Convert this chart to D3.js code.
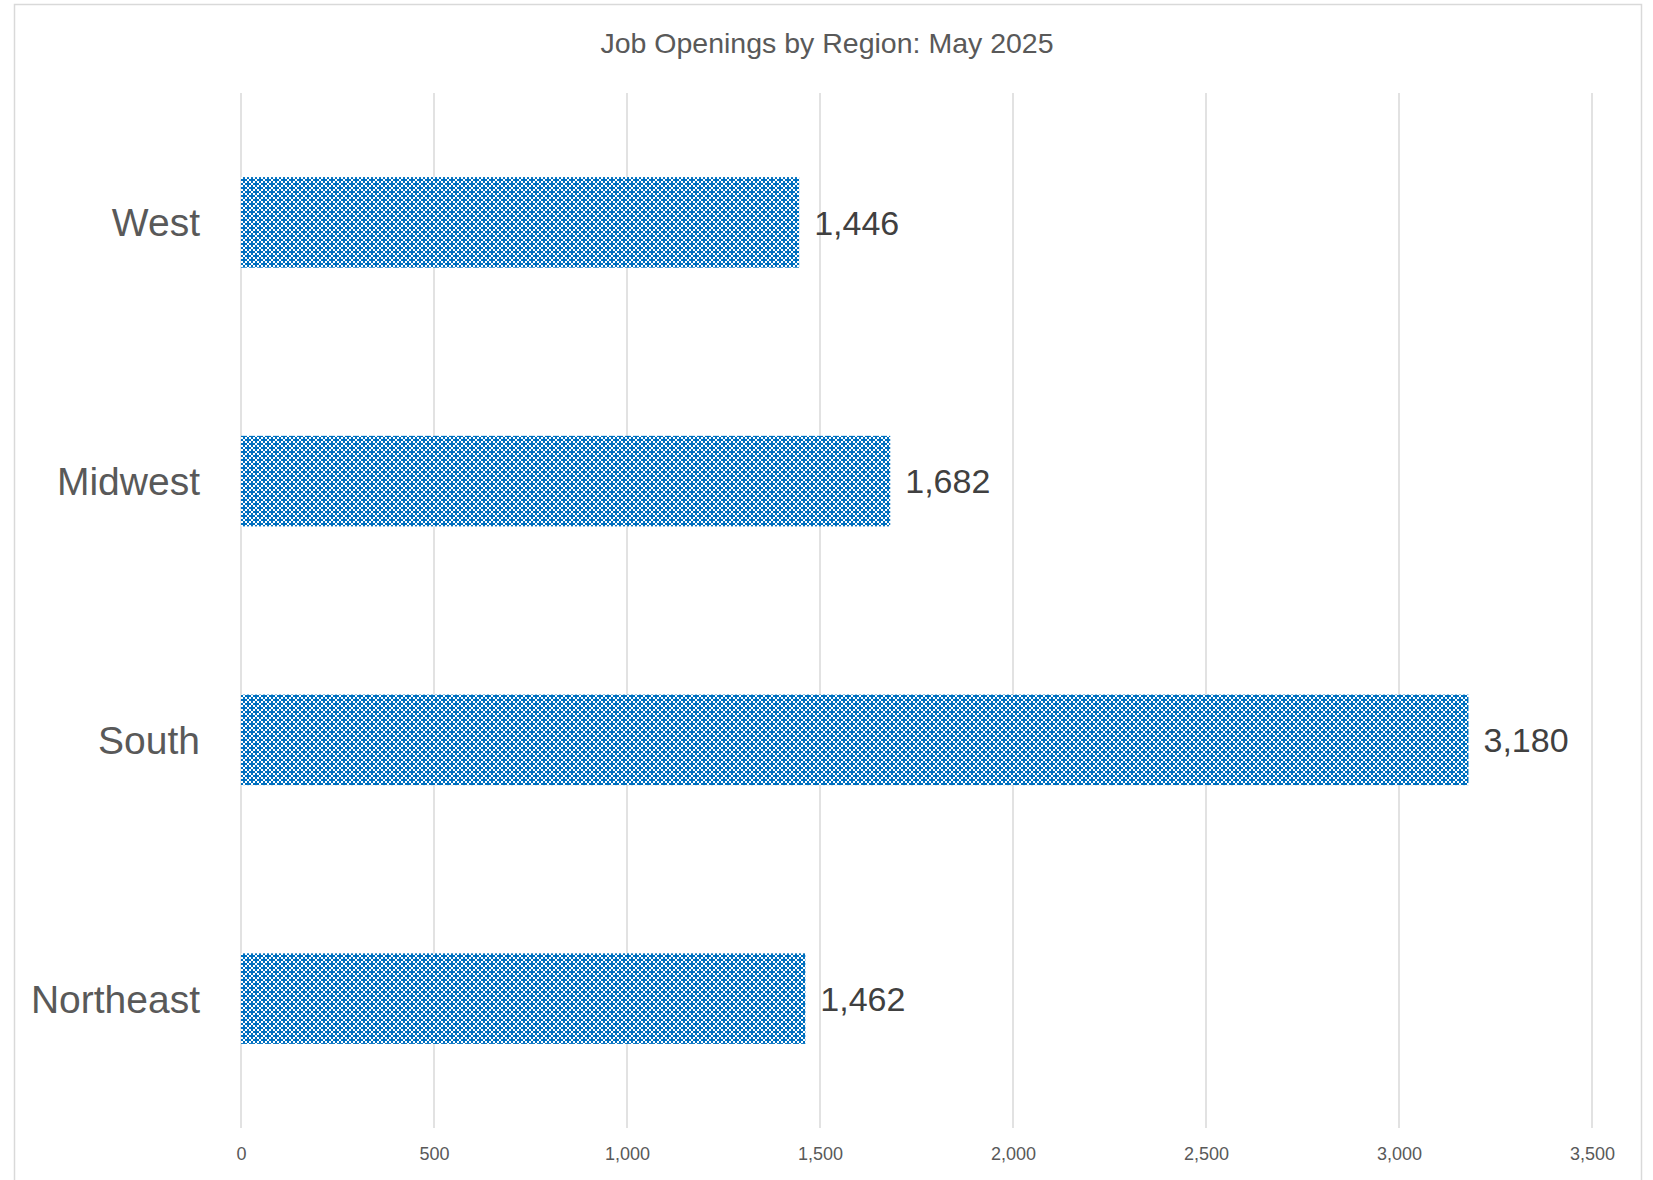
<!DOCTYPE html>
<html><head><meta charset="utf-8">
<script src="https://cdn.jsdelivr.net/npm/d3@7"></script>
<style>body{margin:0;background:#fff;} svg{display:block;}</style>
</head><body>
<script>
const categories = ["West", "Midwest", "South", "Northeast"];
const values = [1446, 1682, 3180, 1462];
const tickValues = [0, 500, 1000, 1500, 2000, 2500, 3000, 3500];
const title = "Job Openings by Region: May 2025";

const W = 1653, H = 1180;
const svg = d3.select("body").append("svg").attr("width", W).attr("height", H);

// outer chart border
svg.append("rect").attr("x", 14.5).attr("y", 4.5).attr("width", 1627).attr("height", 1200)
  .attr("fill", "#fff").attr("stroke", "#d9d9d9").attr("stroke-width", 1.5);

const defs = svg.append("defs");
const T = 8;
const pat = defs.append("pattern").attr("id", "pat").attr("patternUnits", "userSpaceOnUse")
  .attr("width", T).attr("height", T);
pat.append("rect").attr("width", T).attr("height", T).attr("fill", "#ffffff");
const centers = [[4, 4], [0, 0], [8, 0], [0, 8], [8, 8]];
centers.forEach(([cx, cy]) => {
  pat.append("rect").attr("x", cx - 3).attr("y", cy - 1).attr("width", 6).attr("height", 2).attr("fill", "#0070C0");
  pat.append("rect").attr("x", cx - 1).attr("y", cy - 3).attr("width", 2).attr("height", 6).attr("fill", "#0070C0");
});

const x = d3.scaleLinear().domain([0, 3500]).range([241, 1592]);
const y = d3.scaleBand().domain(categories).range([93, 1128]).paddingInner(0.65).paddingOuter(0.325);

// gridlines
svg.append("g").selectAll("line").data(tickValues).join("line")
  .attr("x1", d => x(d)).attr("x2", d => x(d))
  .attr("y1", 93).attr("y2", 1128)
  .attr("stroke", "#d9d9d9").attr("stroke-width", 1.5);

// x tick labels
const xAxis = svg.append("g").attr("transform", "translate(0,1128)")
  .call(d3.axisBottom(x).tickValues(tickValues).tickFormat(d3.format(",")).tickSize(0).tickPadding(0));
xAxis.select(".domain").remove();
xAxis.selectAll("text").attr("y", 26).attr("dy", "0.35em")
  .attr("font-family", "Liberation Sans, Arial, sans-serif").attr("font-size", 18).attr("fill", "#595959");

// bars
svg.append("g").selectAll("rect").data(values).join("rect")
  .attr("x", x(0)).attr("y", (d, i) => y(categories[i]))
  .attr("width", d => x(d) - x(0)).attr("height", y.bandwidth())
  .attr("fill", "url(#pat)");

// value labels
svg.append("g").selectAll("text").data(values).join("text")
  .attr("x", d => x(d) + 15).attr("y", (d, i) => y(categories[i]) + y.bandwidth() / 2)
  .attr("dy", "0.36em")
  .attr("font-family", "Liberation Sans, Arial, sans-serif").attr("font-size", 34)
  .attr("fill", "#404040").text(d => d3.format(",")(d));

// category labels
const yAxis = svg.append("g").attr("transform", "translate(200,0)")
  .call(d3.axisLeft(y).tickSize(0).tickPadding(0));
yAxis.select(".domain").remove();
yAxis.selectAll("text").attr("dy", "0.36em")
  .attr("font-family", "Liberation Sans, Arial, sans-serif").attr("font-size", 39).attr("fill", "#595959");

// title
svg.append("text").attr("x", 827).attr("y", 43).attr("dy", "0.36em").attr("text-anchor", "middle")
  .attr("font-family", "Liberation Sans, Arial, sans-serif").attr("font-size", 28.5).attr("fill", "#595959")
  .text(title);
</script>
</body></html>
